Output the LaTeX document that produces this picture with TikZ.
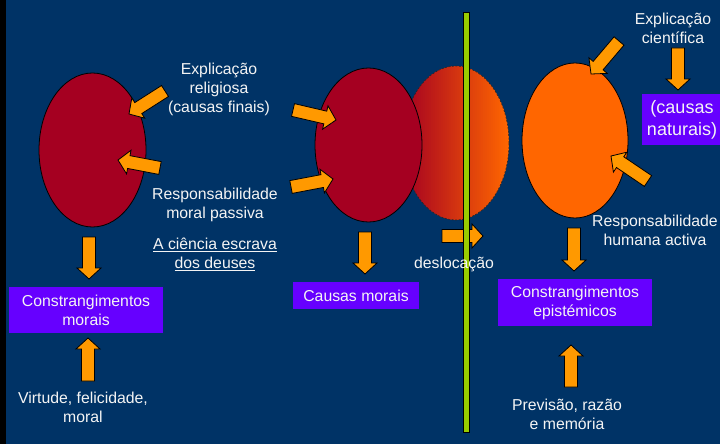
\documentclass[tikz,border=0pt]{standalone}
\usepackage{fontspec}
\setmainfont{Liberation Sans}
\usetikzlibrary{calc,shapes.geometric}
\definecolor{navybg}{HTML}{003366}
\definecolor{darkred}{HTML}{A50021}
\definecolor{orangefill}{HTML}{FF6600}
\definecolor{arroworange}{HTML}{FF9900}
\definecolor{violetbox}{HTML}{6600FF}
\definecolor{limegreen}{HTML}{99CC00}
\definecolor{txtwhite}{HTML}{F4F4F4}
\tikzset{
  blob/.style={ellipse, draw=black, line width=0.8pt, inner sep=0pt,
    minimum width=107pt, minimum height=154pt},
  blockarrow/.style={fill=arroworange, draw=black, line width=0.8pt, line join=miter},
  label/.style={text=txtwhite, align=center, inner sep=0pt,
    font=\fontsize{15.8}{19}\selectfont},
  vbox/.style={fill=violetbox, text=txtwhite, align=center, inner sep=0pt,
    font=\fontsize{15.8}{19}\selectfont},
}
\newcommand\barrowdraw[2]{%
  \path coordinate (bah) at ($(#2)!11pt!(#1)$);
  \draw[blockarrow]
    ($(#1)!6.5pt!90:(#2)$) -- ($(bah)!6.5pt!90:(#2)$) -- ($(bah)!12pt!90:(#2)$)
    -- (#2) -- ($(bah)!12pt!-90:(#2)$) -- ($(bah)!6.5pt!-90:(#2)$)
    -- ($(#1)!6.5pt!-90:(#2)$) -- cycle;
}
\begin{document}
\begin{tikzpicture}[x=1pt,y=-1pt]
\useasboundingbox (0,0) rectangle (720,444);
\fill[navybg] (0,0) rectangle (720,444);
\fill[black] (0,0) rectangle (6,444);

% ellipses
\node[blob, fill=darkred] (e1) at (92.5,150) {};
% shifted (gradient) ellipse, drawn as thin colour strips
\begin{scope}
  \clip (456,143) ellipse [x radius=53pt, y radius=77pt];
  \foreach \i in {0,...,52} {
    \pgfmathsetmacro\pc{\i*100/52}
    \fill[orangefill!\pc!darkred] ({403+2*\i},60) rectangle ({405.6+2*\i},226);
  }
\end{scope}
\node[ellipse, inner sep=0pt, minimum width=106pt, minimum height=154pt,
      draw=black!85, line width=0.6pt, dash pattern=on 2pt off 1.5pt] (e3) at (456,143) {};
\node[blob, fill=darkred] (e2) at (368.5,145) {};
\node[blob, fill=orangefill, minimum width=106pt, minimum height=155pt] (e4) at (575,140.5) {};

% arrow end points
\coordinate (a1s) at (165,91);  \coordinate (a1e) at (129,114);
\coordinate (a2s) at (160,168); \coordinate (a2e) at (118,160);
\coordinate (a3s) at (89,237);  \coordinate (a3e) at (89,279);
\coordinate (a4s) at (88,381);  \coordinate (a4e) at (88,338);
\coordinate (a5s) at (293,110); \coordinate (a5e) at (336,120);
\coordinate (a6s) at (291,187); \coordinate (a6e) at (333,179);
\coordinate (a7s) at (619,41);  \coordinate (a7e) at (591,74);
\coordinate (a8s) at (648,181); \coordinate (a8e) at (611,156);
\coordinate (a9s) at (678,48);  \coordinate (a9e) at (678,90);
\coordinate (a10s) at (365,232); \coordinate (a10e) at (365,274);
\coordinate (a11s) at (574,228); \coordinate (a11e) at (574,271);
\coordinate (a12s) at (571,387); \coordinate (a12e) at (571,345);
\coordinate (a13s) at (442,236); \coordinate (a13e) at (483,236);

\barrowdraw{a1s}{a1e}
\barrowdraw{a2s}{a2e}
\barrowdraw{a3s}{a3e}
\barrowdraw{a4s}{a4e}
\barrowdraw{a5s}{a5e}
\barrowdraw{a6s}{a6e}
\barrowdraw{a7s}{a7e}
\barrowdraw{a8s}{a8e}
\barrowdraw{a9s}{a9e}
\barrowdraw{a10s}{a10e}
\barrowdraw{a11s}{a11e}
\barrowdraw{a12s}{a12e}
\barrowdraw{a13s}{a13e}

% green divider
\node[fill=limegreen, draw=black, line width=0.6pt, inner sep=0pt,
      minimum width=6pt, minimum height=420pt] (bar) at (466,222) {};

% boxes
\node[vbox, minimum width=154pt, minimum height=46pt] (b1) at (86,310) {Constrangimentos\\morais};
\node[vbox, minimum width=126pt, minimum height=27pt] (b2) at (356,295.5) {Causas morais};
\node[vbox, minimum width=154pt, minimum height=47pt] (b3) at (575,302.5) {Constrangimentos\\epistémicos};
\node[vbox, minimum width=80pt, minimum height=51pt,
      font=\fontsize{18}{22}\selectfont] (b4) at (682,119.5) {(causas\\naturais)};

% labels
\node[label] (t1) at (219,89) {Explicação\\religiosa\\(causas finais)};
\node[label] (t2) at (215,205) {Responsabilidade\\moral passiva};
\node[label] (t3) at (215,254) {\underline{A ciência escrava}\\\underline{dos deuses}};
\node[label] (t4) at (83,407) {Virtude, felicidade,\\moral};
\node[label] (t5) at (454,264) {deslocação};
\node[label] (t6) at (567,414) {Previsão, razão\\e memória};
\node[label] (t7) at (673,28) {Explicação\\científica};
\node[label] (t8) at (655,230) {Responsabilidade\\humana activa};
\end{tikzpicture}
\end{document}
